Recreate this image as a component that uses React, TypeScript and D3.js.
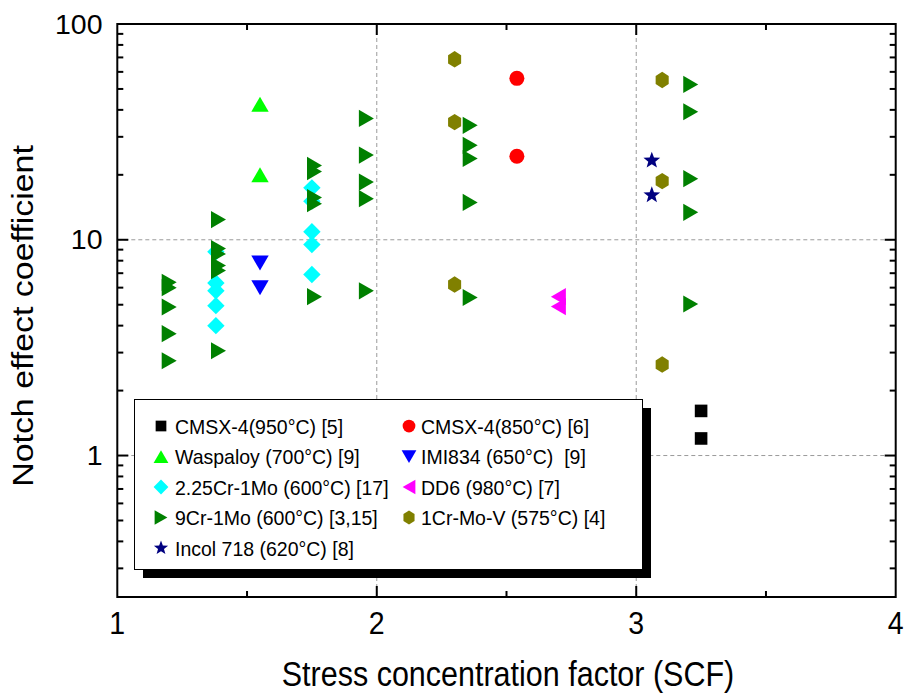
import React from 'react';
import * as d3 from 'd3';

// ---------- data ----------
const xTickValues = [1, 2, 3, 4];
const xTickLabels = ['1', '2', '3', '4'];
const xMinorValues = [1.5, 2.5, 3.5];
const yTickValues = [1, 10, 100];
const yTickLabels = ['1', '10', '100'];
const gridX = [2, 3];
const gridY = [1, 10];

const cmsx950X = [3.25, 3.25];
const cmsx950Y = [1.61, 1.2];
const cmsx850X = [2.54, 2.54];
const cmsx850Y = [56.0, 24.4];
const waspX = [1.55, 1.55];
const waspY = [42.5, 20.0];
const imiX = [1.55, 1.55];
const imiY = [7.8, 6.0];
const cr225X = [1.38, 1.38, 1.38, 1.38, 1.38, 1.75, 1.75, 1.75, 1.75, 1.75];
const cr225Y = [8.8, 6.3, 5.8, 4.95, 4.0, 17.4, 15.1, 10.9, 9.5, 6.9];
const dd6X = [2.7, 2.7];
const dd6Y = [5.45, 4.9];
const cr9X = [
  1.2, 1.2, 1.2, 1.2, 1.2,
  1.39, 1.39, 1.39, 1.39, 1.39, 1.39,
  1.76, 1.76, 1.76, 1.76, 1.76,
  1.96, 1.96, 1.96, 1.96, 1.96,
  2.36, 2.36, 2.36, 2.36, 2.36,
  3.21, 3.21, 3.21, 3.21, 3.21,
];
const cr9Y = [
  6.35, 6.0, 4.88, 3.67, 2.75,
  12.4, 9.1, 8.6, 7.6, 7.2, 3.06,
  22.1, 20.7, 15.7, 14.7, 5.45,
  36.5, 24.7, 18.5, 15.5, 5.8,
  33.9, 27.4, 23.8, 14.9, 5.4,
  52.5, 39.2, 19.2, 13.4, 5.04,
];
const crmovX = [2.3, 2.3, 2.3, 3.1, 3.1, 3.1];
const crmovY = [68.6, 35.1, 6.2, 55.0, 18.7, 2.64];
const incolX = [3.06, 3.06];
const incolY = [23.3, 16.1];

const seriesNames = [
  'CMSX-4(950°C) [5]',
  'CMSX-4(850°C) [6]',
  'Waspaloy (700°C) [9]',
  'IMI834 (650°C)  [9]',
  '2.25Cr-1Mo (600°C) [17]',
  'DD6 (980°C) [7]',
  '9Cr-1Mo (600°C) [3,15]',
  '1Cr-Mo-V (575°C) [4]',
  'Incol 718 (620°C) [8]',
];
const seriesX = [cmsx950X, cmsx850X, waspX, imiX, cr225X, dd6X, cr9X, crmovX, incolX];
const seriesY = [cmsx950Y, cmsx850Y, waspY, imiY, cr225Y, dd6Y, cr9Y, crmovY, incolY];
const seriesColors = ['#000000', '#FF0000', '#00FF00', '#0000FF', '#00FFFF', '#FF00FF', '#008000', '#808000', '#000080'];
const seriesShapes = ['square', 'circle', 'up', 'down', 'diamond', 'left', 'right', 'hexagon', 'star'];

// ---------- layout ----------
const W = 906;
const H = 696;
const L = 117.3;
const R = 895.7;
const T = 24;
const B = 597;
const FONT = 'Liberation Sans, Arial, Helvetica, sans-serif';

const x = d3.scaleLinear().domain([1, 4]).range([L, R]);
const y = d3.scaleLog().domain([0.221, 100]).range([B, T]);

const poly = d3.line().curve(d3.curveLinearClosed);

function shapePath(shape: string, k: number): string {
  switch (shape) {
    case 'square': {
      const s = 6.3 * k;
      return poly([[-s, -s], [s, -s], [s, s], [-s, s]]) as string;
    }
    case 'circle':
      return d3.symbol(d3.symbolCircle, Math.PI * (7.5 * k) ** 2)() as string;
    case 'up': {
      const w = 8.7 * k, h = 7.5 * k;
      return poly([[0, -h], [w, h], [-w, h]]) as string;
    }
    case 'down': {
      const w = 8.7 * k, h = 7.5 * k;
      return poly([[0, h], [w, -h], [-w, -h]]) as string;
    }
    case 'diamond': {
      const w = 8.7 * k, h = 8.7 * k;
      return poly([[0, -h], [w, 0], [0, h], [-w, 0]]) as string;
    }
    case 'left': {
      const w = 7.5 * k, h = 8.6 * k;
      return poly([[-w, 0], [w, -h], [w, h]]) as string;
    }
    case 'right': {
      const w = 7.5 * k, h = 8.6 * k;
      return poly([[w, 0], [-w, -h], [-w, h]]) as string;
    }
    case 'hexagon': {
      const r = 8.2 * k;
      const pts: [number, number][] = d3.range(6).map((i) => {
        const a = (Math.PI / 3) * i - Math.PI / 2;
        return [r * Math.cos(a) * 0.92, r * Math.sin(a)];
      });
      return poly(pts) as string;
    }
    case 'star': {
      const ro = 8.8 * k, ri = ro * 0.42;
      const pts: [number, number][] = d3.range(10).map((i) => {
        const a = (Math.PI / 5) * i - Math.PI / 2;
        const rr = i % 2 === 0 ? ro : ri;
        return [rr * Math.cos(a), rr * Math.sin(a)];
      });
      return poly(pts) as string;
    }
  }
  return '';
}

function Txt(props: {
  x: number; y: number; size: number; anchor?: string; sy?: number; rotate?: boolean; children: React.ReactNode;
}) {
  const { x: tx, y: ty, size, anchor = 'start', sy = 1, rotate = false, children } = props;
  const tr = rotate
    ? `translate(${tx},${ty}) rotate(-90) scale(${sy},1)`
    : `translate(${tx},${ty}) scale(1,${sy})`;
  return (
    <text transform={tr} fontSize={size} fontFamily={FONT} textAnchor={anchor} fill="#000" style={{ whiteSpace: 'pre' }}>
      {children}
    </text>
  );
}

const yMinorValues: number[] = [];
[0.1, 1, 10].forEach((d) => {
  for (let m = 2; m <= 9; m++) {
    const v = d * m;
    if (v >= 0.221 && v <= 100) yMinorValues.push(v);
  }
});

// legend layout
const legBox = { x0: 134.5, y0: 399.5, x1: 642.5, y1: 569.5 };
const legRows = [426, 456.5, 487, 517.5, 548];
const legColSym = [161, 409];
const legColText = [175, 421];

export default function App() {
  return (
    <svg width={W} height={H} style={{ position: 'absolute', left: 0, top: 0, background: '#fff' }}>
      <rect x={0} y={0} width={W} height={H} fill="#fff" />
      {/* grid */}
      {gridX.map((v) => (
        <line key={'gx' + v} x1={x(v)} x2={x(v)} y1={T} y2={B} stroke="#9a9a9a" strokeWidth={1} strokeDasharray="4,3" />
      ))}
      {gridY.map((v) => (
        <line key={'gy' + v} x1={L} x2={R} y1={y(v)} y2={y(v)} stroke="#9a9a9a" strokeWidth={1} strokeDasharray="4,3" />
      ))}

      {/* data */}
      {seriesX.map((xs, si) =>
        xs.map((xv, i) => (
          <path
            key={'p' + si + '-' + i}
            d={shapePath(seriesShapes[si], 1)}
            transform={`translate(${x(xv)},${y(seriesY[si][i])})`}
            fill={seriesColors[si]}
          />
        ))
      )}

      {/* legend */}
      <rect x={legBox.x0 + 8.5} y={legBox.y0 + 8.5} width={legBox.x1 - legBox.x0} height={legBox.y1 - legBox.y0} fill="#000" />
      <rect x={legBox.x0} y={legBox.y0} width={legBox.x1 - legBox.x0} height={legBox.y1 - legBox.y0} fill="#fff" stroke="#000" strokeWidth={1} />
      {seriesNames.map((name, i) => {
        const row = Math.floor(i / 2);
        const col = i % 2;
        return (
          <g key={'leg' + i}>
            <path d={shapePath(seriesShapes[i], 0.85)} transform={`translate(${legColSym[col]},${legRows[row]})`} fill={seriesColors[i]} />
            <Txt x={legColText[col]} y={legRows[row] + 7.5} size={19.5} sy={1.08}>{name}</Txt>
          </g>
        );
      })}

      {/* frame */}
      <rect x={L} y={T} width={R - L} height={B - T} fill="none" stroke="#000" strokeWidth={2} />
      {/* x ticks (bottom & top, inward) */}
      {xTickValues.slice(1, -1).map((v) => (
        <g key={'xt' + v}>
          <line x1={x(v)} x2={x(v)} y1={B} y2={B - 11} stroke="#000" strokeWidth={2} />
          <line x1={x(v)} x2={x(v)} y1={T} y2={T + 11} stroke="#000" strokeWidth={2} />
        </g>
      ))}
      {xMinorValues.map((v) => (
        <g key={'xm' + v}>
          <line x1={x(v)} x2={x(v)} y1={B} y2={B - 6} stroke="#000" strokeWidth={2} />
          <line x1={x(v)} x2={x(v)} y1={T} y2={T + 6} stroke="#000" strokeWidth={2} />
        </g>
      ))}
      {/* y ticks (left & right, inward) */}
      {yTickValues.slice(0, -1).map((v) => (
        <g key={'yt' + v}>
          <line x1={L} x2={L + 11} y1={y(v)} y2={y(v)} stroke="#000" strokeWidth={2} />
          <line x1={R} x2={R - 11} y1={y(v)} y2={y(v)} stroke="#000" strokeWidth={2} />
        </g>
      ))}
      {yMinorValues.map((v) => (
        <g key={'ym' + v}>
          <line x1={L} x2={L + 6} y1={y(v)} y2={y(v)} stroke="#000" strokeWidth={2} />
          <line x1={R} x2={R - 6} y1={y(v)} y2={y(v)} stroke="#000" strokeWidth={2} />
        </g>
      ))}

      {/* tick labels */}
      {xTickValues.map((v, i) => (
        <Txt key={'xl' + v} x={x(v)} y={634} size={28.5} anchor="middle" sy={1.08}>{xTickLabels[i]}</Txt>
      ))}
      {yTickValues.map((v, i) => (
        <Txt key={'yl' + v} x={102.5} y={y(v) + 9.5} size={28.5} anchor="end" sy={1.0}>{yTickLabels[i]}</Txt>
      ))}

      {/* axis titles */}
      <Txt x={508} y={686} size={30.5} anchor="middle" sy={1.12}>Stress concentration factor (SCF)</Txt>
      <Txt x={33} y={316} size={29.5} anchor="middle" sy={1.15} rotate>Notch effect coefficient</Txt>
    </svg>
  );
}
